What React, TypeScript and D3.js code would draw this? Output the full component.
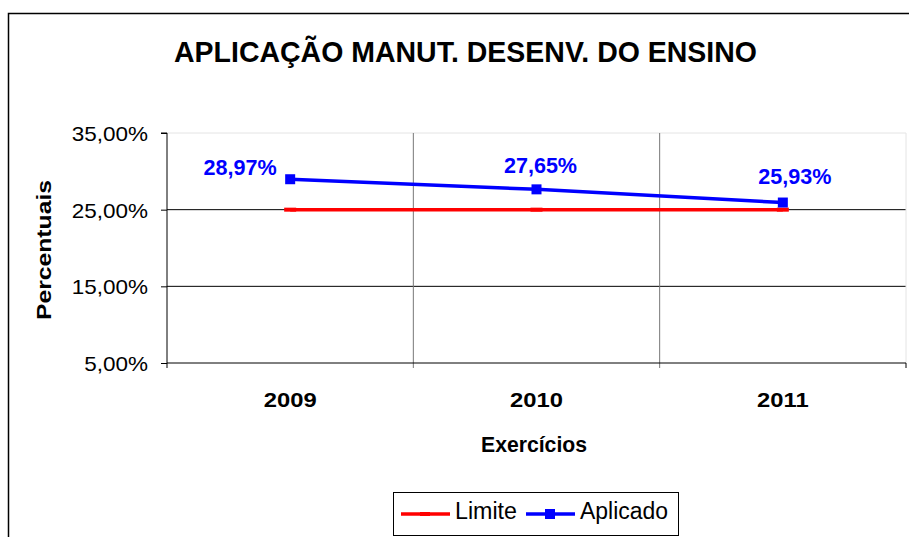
import React, { useEffect, useRef } from 'react'
import * as d3 from 'd3'

const years = ['2009', '2010', '2011']
const limite = [25, 25, 25]
const aplicado = [28.97, 27.65, 25.93]
const yTicks = [5, 15, 25, 35]
const labelDx = [-50, 4, 12]
const labelDy = [-4, -16, -19]

const fmt = (v: number) => v.toFixed(2).replace('.', ',') + '%'

// the original chart's text is drawn a bit wider than plain Arial
const stretch = (sel: any, k: number) => {
    sel.each(function (this: SVGTextElement) {
        const w = this.getComputedTextLength()
        d3.select(this).attr('textLength', w * k).attr('lengthAdjust', 'spacingAndGlyphs')
    })
}

const App = () => {
    const svgRef = useRef<SVGSVGElement>(null)

    useEffect(() => {
        const svg = d3.select(svgRef.current)
        svg.selectAll('*').remove()
        const font = 'Liberation Sans, Arial, sans-serif'

        // outer frame
        svg.append('rect')
            .attr('x', 8.5).attr('y', 13.5).attr('width', 920).attr('height', 540)
            .attr('fill', '#fff').attr('stroke', '#000').attr('stroke-width', 1.5)

        const left = 167, right = 906, top = 133, bottom = 363

        const x = d3.scaleBand().domain(years).range([left, right])
        const y = d3.scaleLinear().domain([5, 35]).range([bottom, top])
        const cx = (d: string) => (x(d) as number) + x.bandwidth() / 2

        svg.append('text')
            .attr('x', 465.5).attr('y', 61.5)
            .attr('text-anchor', 'middle')
            .attr('font-family', font).attr('font-weight', 'bold').attr('font-size', 30)
            .attr('textLength', 583).attr('lengthAdjust', 'spacingAndGlyphs')
            .text('APLICAÇÃO MANUT. DESENV. DO ENSINO')

        const g = svg.append('g')

        // horizontal gridlines
        g.selectAll('line.h').data(yTicks.slice(1)).join('line')
            .attr('x1', left).attr('x2', right)
            .attr('y1', d => y(d)).attr('y2', d => y(d))
            .attr('stroke', d => d === 35 ? '#e4e4e4' : '#000').attr('stroke-width', 1)
        // vertical gridlines
        g.selectAll('line.v').data(years.slice(1)).join('line')
            .attr('x1', d => x(d) as number).attr('x2', d => x(d) as number)
            .attr('y1', top).attr('y2', bottom + 5)
            .attr('stroke', '#777').attr('stroke-width', 1)
        g.append('line').attr('x1', right).attr('x2', right).attr('y1', top).attr('y2', bottom)
            .attr('stroke', '#e4e4e4')

        // axes
        const yAxis = d3.axisLeft(y).tickValues(yTicks).tickSize(6).tickFormat(d => fmt(d as number))
        const ya = svg.append('g').attr('transform', `translate(${left},0)`).call(yAxis)
        ya.select('.domain').attr('stroke', '#000').attr('d', `M-6,${top}H0V${bottom}`)
        ya.selectAll('text').attr('font-family', font).attr('font-size', 21).attr('fill', '#000')
            .attr('x', -19).attr('dy', '0.36em')
        ya.selectAll('line').attr('stroke', '#000')
        stretch(ya.selectAll('text'), 1.07)

        svg.append('line').attr('x1', left).attr('x2', right).attr('y1', bottom).attr('y2', bottom)
            .attr('stroke', '#000')
        svg.selectAll('line.xt').data([left, right]).join('line')
            .attr('x1', d => d).attr('x2', d => d).attr('y1', bottom).attr('y2', bottom + 5)
            .attr('stroke', '#000')

        const xl = svg.selectAll('text.xl').data(years).join('text')
            .attr('x', d => cx(d)).attr('y', 407)
            .attr('text-anchor', 'middle')
            .attr('font-family', font).attr('font-weight', 'bold').attr('font-size', 20.5)
            .text(d => d)
        stretch(xl, 1.16)

        svg.append('text')
            .attr('x', 534).attr('y', 452).attr('text-anchor', 'middle')
            .attr('font-family', font).attr('font-weight', 'bold').attr('font-size', 22)
            .attr('textLength', 106).attr('lengthAdjust', 'spacingAndGlyphs')
            .text('Exercícios')

        svg.append('text')
            .attr('transform', 'translate(51,250) rotate(-90)')
            .attr('text-anchor', 'middle')
            .attr('font-family', font).attr('font-weight', 'bold').attr('font-size', 20)
            .attr('textLength', 140).attr('lengthAdjust', 'spacingAndGlyphs')
            .text('Percentuais')

        const line = d3.line<number>().x((_, i) => cx(years[i])).y(d => y(d))

        svg.append('path').attr('d', line(limite) as string)
            .attr('fill', 'none').attr('stroke', '#ff0000').attr('stroke-width', 3.5)
        svg.selectAll('rect.lm').data(limite).join('rect')
            .attr('x', (_, i) => cx(years[i]) - 6).attr('y', d => y(d) - 2)
            .attr('width', 12).attr('height', 4).attr('fill', '#ff0000')
        svg.append('path').attr('d', line(aplicado) as string)
            .attr('fill', 'none').attr('stroke', '#0000ff').attr('stroke-width', 3.5)
        svg.selectAll('rect.pt').data(aplicado).join('rect')
            .attr('x', (_, i) => cx(years[i]) - 5).attr('y', d => y(d) - 5)
            .attr('width', 10).attr('height', 10).attr('fill', '#0000ff')

        const lbl = svg.selectAll('text.lbl').data(aplicado).join('text')
            .attr('x', (_, i) => cx(years[i]) + labelDx[i]).attr('y', (d, i) => y(d) + labelDy[i])
            .attr('text-anchor', 'middle')
            .attr('font-family', font).attr('font-weight', 'bold').attr('font-size', 22)
            .attr('fill', '#0000ff')
            .text(d => fmt(d))
        stretch(lbl, 0.98)

        // legend
        const lg = svg.append('g')
        lg.append('rect').attr('x', 393.5).attr('y', 492.5).attr('width', 285).attr('height', 43)
            .attr('fill', '#fff').attr('stroke', '#000').attr('stroke-width', 1)
        lg.append('line').attr('x1', 401).attr('x2', 450).attr('y1', 514).attr('y2', 514)
            .attr('stroke', '#ff0000').attr('stroke-width', 3.5)
        lg.append('rect').attr('x', 420).attr('y', 512).attr('width', 10).attr('height', 4)
            .attr('fill', '#ff0000')
        lg.append('text').attr('x', 455).attr('y', 519)
            .attr('font-family', font).attr('font-size', 23)
            .attr('textLength', 62).attr('lengthAdjust', 'spacingAndGlyphs').text('Limite')
        lg.append('line').attr('x1', 526).attr('x2', 575).attr('y1', 514).attr('y2', 514)
            .attr('stroke', '#0000ff').attr('stroke-width', 3.5)
        lg.append('rect').attr('x', 545).attr('y', 509).attr('width', 10).attr('height', 10)
            .attr('fill', '#0000ff')
        lg.append('text').attr('x', 580).attr('y', 519)
            .attr('font-family', font).attr('font-size', 23)
            .attr('textLength', 88).attr('lengthAdjust', 'spacingAndGlyphs').text('Aplicado')
    }, [])

    return (
        <svg ref={svgRef} width={909} height={537}
            style={{ position: 'absolute', left: 0, top: 0, display: 'block' }} />
    )
}

export default App
